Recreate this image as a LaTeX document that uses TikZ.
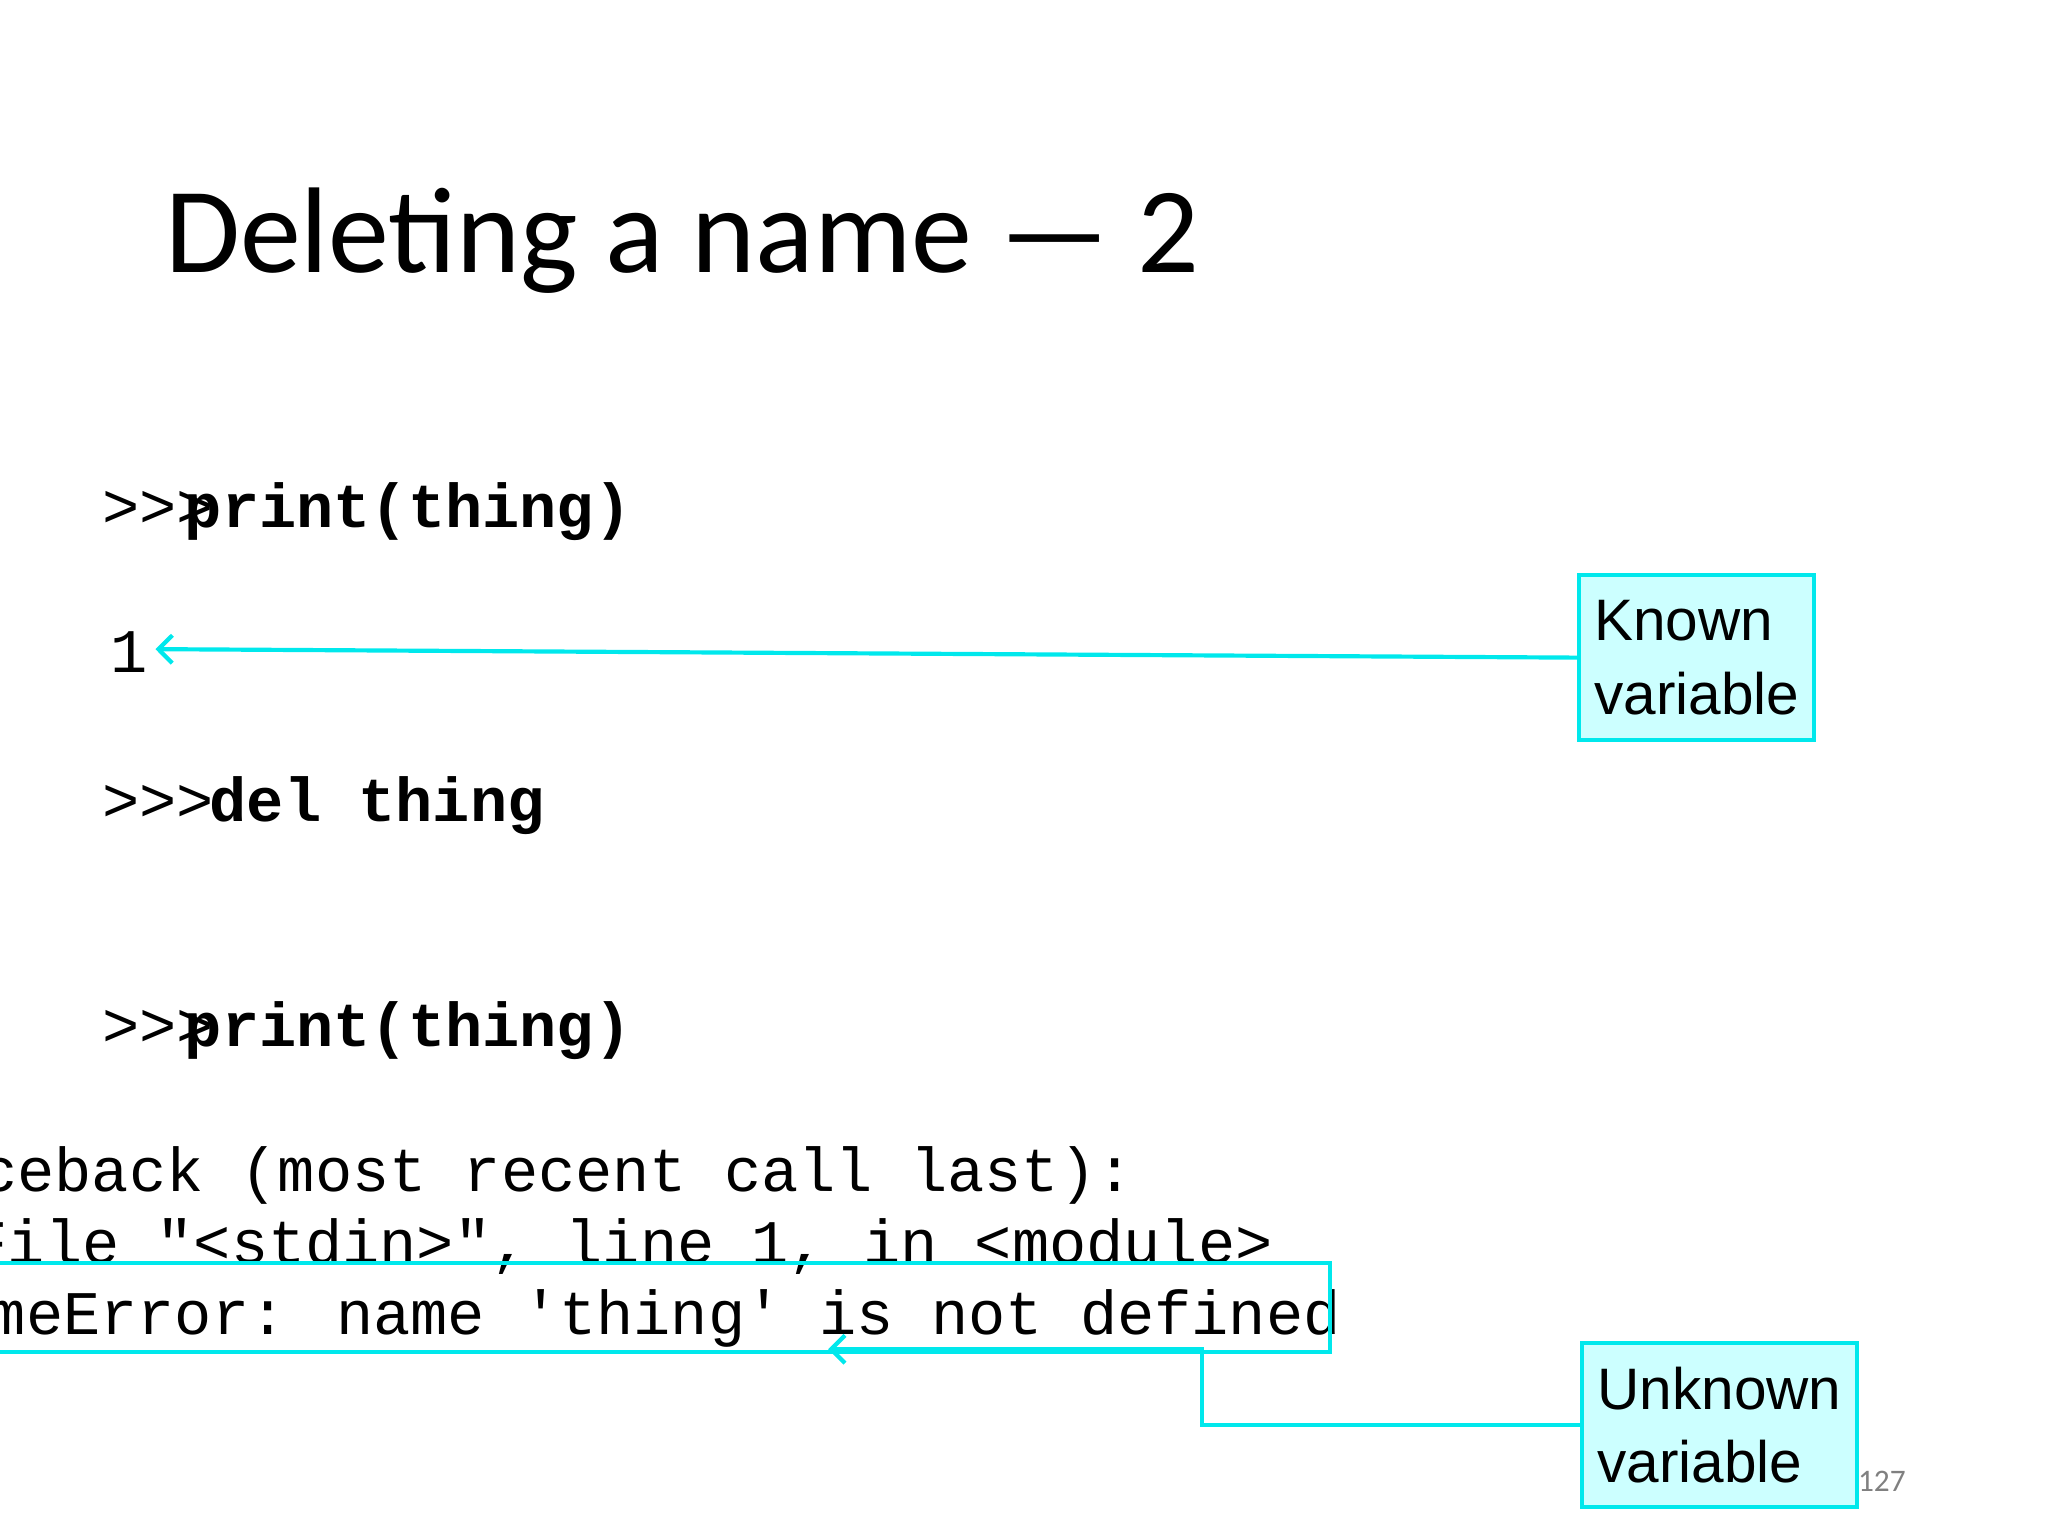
\documentclass[tikz,border=0pt]{standalone}
\usepackage{fontspec}
\setmainfont{Liberation Sans}
\newfontfamily\titlefont{Carlito}
\newfontfamily\codefont{Liberation Mono}
\usetikzlibrary{arrows.meta,calc}
\definecolor{cy}{RGB}{0,232,236}
\definecolor{cyfill}{RGB}{204,255,255}
\begin{document}
\begin{tikzpicture}[x=0.375pt,y=-0.375pt,
  code/.style={anchor=base west,inner sep=0pt,font=\codefont\fontsize{17.8}{20}\selectfont},
  bcode/.style={code,font=\codefont\bfseries\fontsize{17.8}{20}\selectfont},
  note/.style={draw=cy,line width=1.2pt,fill=cyfill,align=left,inner sep=3pt,font=\fontsize{16.8}{21}\selectfont},
  conn/.style={cy,line width=1.2pt,-{Straight Barb[length=4pt]}}]
\useasboundingbox (0,0) rectangle (1568,1176);
\clip (0,0) rectangle (1568,1176);
\node[anchor=base west,inner sep=0pt,font=\titlefont\fontsize{35}{42}\selectfont] (title) at (126,209) {Deleting a name — 2};
\node[code] (p1) at (78,404) {>>>};
\node[bcode] (c1) at (141,404) {print(thing)};
\node[code] (one) at (84,515) {1};
\node[code] (p2) at (78,629) {>>>};
\node[bcode] (c2) at (160,629) {del thing};
\node[code] (p3) at (78,801) {>>>};
\node[bcode] (c3) at (141,801) {print(thing)};
\node[code] (t1) at (-101,912) {Traceback (most recent call last):};
\node[code] (t2) at (-80,967) {\ \ File "<stdin>", line 1, in <module>};
\node[code] (t3) at (-66,1022) {NameError: name 'thing' is not defined};
\draw[cy,line width=1.2pt] (-5,967) rectangle (1018,1035);
\coordinate (errpt) at (634,1033);
\coordinate (onept) at (119,497);
\node[note,minimum width=180*0.375pt,minimum height=126*0.375pt] (known) at (1299,503.5) {Known\\variable};
\node[note,minimum width=211*0.375pt,minimum height=125*0.375pt] (unknown) at (1316.5,1091) {Unknown\\variable};
\draw[conn] (known.west) -- (onept);
\draw[conn] (unknown.west) -- (920,1091) -- (920,1033) -- (errpt);
\node[anchor=base west,inner sep=0pt,text=gray,font=\titlefont\fontsize{9}{10}\selectfont] (pg) at (1422,1142) {127};
\end{tikzpicture}
\end{document}
